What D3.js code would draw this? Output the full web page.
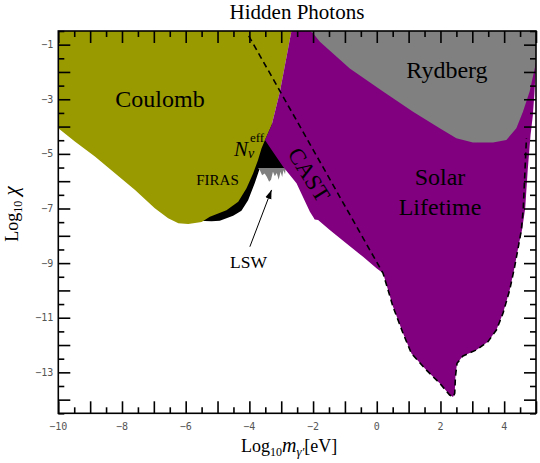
<!DOCTYPE html>
<html><head><meta charset="utf-8">
<script src="https://cdn.jsdelivr.net/npm/d3@7"></script>
<style>body{margin:0;background:#fff}</style>
</head><body>
<svg id="c" width="540" height="463"></svg>
<script>
// ---- data (log10 m [eV], log10 chi) ----
const xDomain = [-10, 5];
const yDomain = [-0.5, -14.5];
const xTickLabels = [-10, -8, -6, -4, -2, 0, 2, 4];
const yTickLabels = [-1, -3, -5, -7, -9, -11, -13];

const coulomb = [[-10,-0.5],[-10,-4.06],[-9.48,-4.55],[-8.85,-5.10],[-8.22,-5.71],[-7.59,-6.32],[-6.97,-6.99],
  [-6.55,-7.36],[-6.23,-7.54],[-5.92,-7.57],[-5.50,-7.49],[-5.24,-7.30],[-4.72,-7.06],[-4.35,-6.75],[-4.09,-6.26],
  [-3.88,-5.71],[-3.73,-5.23],[-3.62,-4.80],[-3.51,-4.49],[-3.30,-3.94],[-3.04,-2.72],[-2.68,-0.5]];

const nEffFiras = [[-5.6,-7.45],[-5.19,-7.47],[-4.93,-7.45],[-4.51,-7.27],[-4.25,-7.08],[-4.04,-6.70],[-3.83,-6.07],
  [-3.67,-5.52],[-2.85,-5.52],[-2.7,-4.5],[-3.3,-3.9],[-4.5,-6.0],[-5.6,-7.3]];

const lsw = [[-3.73,-5.52],[-2.86,-5.52],[-2.88,-5.75],[-2.93,-5.6],[-2.97,-5.85],[-3.02,-5.65],[-3.08,-5.95],
  [-3.14,-5.7],[-3.2,-5.82],[-3.26,-5.65],[-3.32,-5.95],[-3.38,-6.02],[-3.45,-5.85],[-3.52,-5.72],[-3.6,-5.78],[-3.67,-5.6]];

const solar = [[-2.68,-0.5],[5,-0.5],[5,-1.7],[4.95,-2.8],[4.9,-3.6],[4.83,-4.3],[4.74,-5.6],[4.66,-7.0],[4.56,-7.8],
  [4.465,-8.28],[4.33,-9.13],[4.173,-9.99],[3.963,-10.84],[3.756,-11.45],[3.49,-11.88],[3.128,-12.18],[2.708,-12.40],
  [2.52,-12.67],[2.47,-13.16],[2.448,-13.77],[2.394,-13.90],[2.29,-13.83],[1.977,-13.40],[1.56,-12.92],[1.089,-12.31],
  [0.825,-11.57],[0.511,-10.60],[0.198,-9.375],[-0.009,-9.19],[-0.43,-8.77],[-0.951,-8.28],[-1.475,-7.79],
  [-1.842,-7.42],[-1.95,-7.40],[-2.0,-7.30],[-2.10,-7.12],[-2.52,-6.08],[-2.94,-5.47],[-3.30,-4.86],[-3.51,-4.49],
  [-3.30,-3.94],[-3.04,-2.72]];

const rydberg = [[-2.1,-0.5],[5,-0.5],[5,-1.65],[4.80,-2.72],[4.59,-3.46],[4.383,-4.06],[4.07,-4.49],[3.649,-4.58],
  [3.02,-4.58],[2.50,-4.43],[1.977,-4.06],[1.139,-3.46],[0.198,-2.72],[-0.847,-1.87],[-1.786,-0.89],[-2.0,-0.58]];

const castDashed = [[-4.02,-0.68],[0.198,-9.375],[0.511,-10.60],[0.825,-11.57],[1.089,-12.31],[1.56,-12.92],
  [1.977,-13.40],[2.29,-13.83],[2.394,-13.90],[2.448,-13.77],[2.47,-13.16],[2.52,-12.67],[2.708,-12.40],[3.128,-12.18],
  [3.49,-11.88],[3.756,-11.45],[3.963,-10.84],[4.173,-9.99],[4.33,-9.13],[4.465,-8.28],[4.54,-7.79],[4.6,-7.0],
  [4.65,-5.70],[4.70,-4.42]];

const lswArrow = [[-3.985,-8.40],[-3.304,-6.32]];

// ---- drawing ----
const W = 540, H = 463;
const L = 58.3, R = 536, T = 31, B = 413.3;
const x = d3.scaleLinear().domain(xDomain).range([L, R]);
const y = d3.scaleLinear().domain(yDomain).range([T, B]);
const svg = d3.select("#c");
const serif = "'Liberation Serif','Times New Roman',serif";

svg.append("defs").append("clipPath").attr("id","clip")
  .append("rect").attr("x",L).attr("y",T).attr("width",R-L).attr("height",B-T);
svg.select("defs").append("marker").attr("id","ah").attr("viewBox","0 0 10 10")
  .attr("refX",10).attr("refY",5).attr("markerWidth",9).attr("markerHeight",9)
  .attr("orient","auto").attr("markerUnits","userSpaceOnUse")
  .append("path").attr("d","M0,1.5 L10,5 L0,8.5 Z").attr("fill","#000");

const g = svg.append("g").attr("clip-path","url(#clip)");
const poly = d3.line().x(d=>x(d[0])).y(d=>y(d[1])).curve(d3.curveLinearClosed);
const line = d3.line().x(d=>x(d[0])).y(d=>y(d[1]));

g.append("path").attr("d",poly(nEffFiras)).attr("fill","#000");
g.append("path").attr("d",poly(lsw)).attr("fill","#808080");
g.append("path").attr("d",poly(coulomb)).attr("fill","#999900");
g.append("path").attr("d",poly(solar)).attr("fill","#800080");
g.append("path").attr("d",poly(rydberg)).attr("fill","#808080");
g.append("path").attr("d",line(castDashed)).attr("fill","none").attr("stroke","#000")
  .attr("stroke-width",1.6).attr("stroke-dasharray","6,4");

// frame
svg.append("rect").attr("x",L).attr("y",T).attr("width",R-L).attr("height",B-T)
  .attr("fill","none").attr("stroke","#000").attr("stroke-width",1.6);

// ticks
const xMajor = d3.range(-10, 5.001, 1), xMinor = d3.range(-9.5, 5, 1);
const yMajor = d3.range(-1, -14.5, -1), yMinor = d3.range(-0.5, -14.6, -1);
function ticks(axisFn, scale, vals, size, transform){
  const a = axisFn(scale).tickValues(vals).tickSize(size).tickFormat("");
  const gg = svg.append("g").attr("transform",transform).call(a);
  gg.select(".domain").remove();
  gg.selectAll("line").attr("stroke","#000").attr("stroke-width",1.6);
}
ticks(d3.axisBottom, x, xMajor, -12, `translate(0,${B})`);
ticks(d3.axisBottom, x, xMinor, -6, `translate(0,${B})`);
ticks(d3.axisTop, x, xMajor, -12, `translate(0,${T})`);
ticks(d3.axisTop, x, xMinor, -6, `translate(0,${T})`);
ticks(d3.axisLeft, y, yMajor, -12, `translate(${L},0)`);
ticks(d3.axisLeft, y, yMinor, -6, `translate(${L},0)`);
ticks(d3.axisRight, y, yMajor, -12, `translate(${R},0)`);
ticks(d3.axisRight, y, yMinor, -6, `translate(${R},0)`);

const fmt = d => d < 0 ? "\u2212" + Math.abs(d) : String(d);
const mono = "'DejaVu Sans Mono','Liberation Mono',monospace";
svg.append("g").selectAll("text").data(xTickLabels).join("text")
  .attr("x",d=>x(d)).attr("y",B+17).attr("text-anchor","middle")
  .attr("font-family",mono).attr("font-size",10).attr("fill","#555").text(fmt);
svg.append("g").selectAll("text").data(yTickLabels).join("text")
  .attr("x",L-5).attr("y",d=>y(d)).attr("dy","0.35em").attr("text-anchor","end")
  .attr("font-family",mono).attr("font-size",10).attr("fill","#555").text(fmt);

// arrow
svg.append("path").attr("d",line(lswArrow)).attr("stroke","#000").attr("stroke-width",1)
  .attr("fill","none").attr("marker-end","url(#ah)");

// labels
function label(txt, px, py, size, opts={}){
  const t = svg.append("text").attr("x",px).attr("y",py).attr("text-anchor",opts.anchor||"middle")
    .attr("font-family",serif).attr("font-size",size).attr("fill","#000").text(txt);
  if (opts.italic) t.attr("font-style","italic");
  if (opts.rotate) t.attr("transform",`rotate(${opts.rotate},${px},${py})`);
  return t;
}
label("Hidden Photons", 297, 19, 21);
label("Coulomb", 160, 107, 24);
label("Rydberg", 447, 78, 24);
label("Solar", 440, 185, 24);
label("Lifetime", 440, 215, 24);
label("CAST", 307, 176, 23, {rotate:58}).attr("dominant-baseline","middle");
label("FIRAS", 217.5, 185, 15);
label("LSW", 248.5, 268, 17.5);
label("N", 234, 156, 21, {anchor:"start", italic:true});
label("eff", 250, 142, 13, {anchor:"start"});
label("\u03BD", 248, 158, 14, {anchor:"start", italic:true});

// axis titles
const yl = svg.append("text").attr("transform",`translate(18,214) rotate(-90)`)
  .attr("text-anchor","middle").attr("font-family",serif).attr("font-size",18);
yl.append("tspan").text("Log");
yl.append("tspan").attr("font-size",12).attr("dy",4).text("10");
yl.append("tspan").attr("dy",-4).attr("font-style","italic").attr("font-size",21).text(" \u03C7");

const xl = svg.append("text").attr("x",(L+R)/2-8).attr("y",452)
  .attr("text-anchor","middle").attr("font-family",serif).attr("font-size",18);
xl.append("tspan").text("Log");
xl.append("tspan").attr("font-size",12).attr("dy",4).text("10");
xl.append("tspan").attr("dy",-4).attr("font-style","italic").attr("font-size",20).text("m");
xl.append("tspan").attr("dy",4).attr("font-style","italic").attr("font-size",13).text("\u03B3\u2032");
xl.append("tspan").attr("dy",-4).text("[eV]");
</script>
</body></html>
